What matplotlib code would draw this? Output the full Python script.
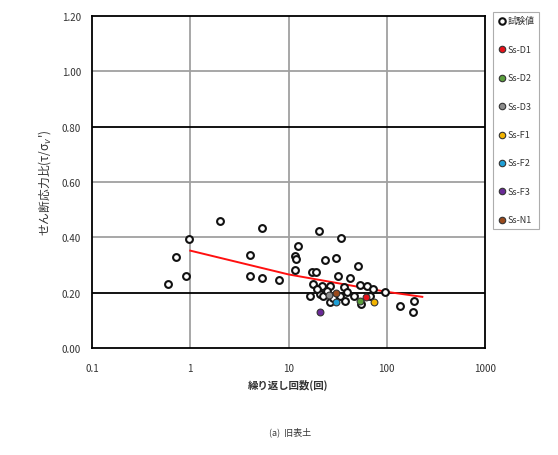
import matplotlib
matplotlib.use("Agg")
import matplotlib.pyplot as plt

plt.rcParams['font.family'] = ['Noto Sans CJK JP', 'DejaVu Sans']

# test results (cycles to failure, stress ratio)
test_n = [0.59, 0.71, 0.90, 0.98, 2.02, 5.37, 4.02, 4.02, 5.37, 8.05,
          20.2, 33.9, 12.4, 11.7, 12.0, 11.7, 23.7, 30.1, 50.9, 17.3,
          19.1, 31.6, 42.5, 17.7, 21.8, 26.6, 36.3, 53.8, 62.9, 72.4,
          95.0, 16.4, 21.1, 26.6, 37.8, 54.7, 67.6, 137, 190, 186,
          19.5, 22.7, 33.6, 39.3, 46.9, 24.5, 28.5]
test_ratio = [0.230, 0.328, 0.261, 0.394, 0.459, 0.433, 0.336, 0.261, 0.254, 0.246,
              0.424, 0.398, 0.367, 0.331, 0.322, 0.283, 0.319, 0.324, 0.297, 0.276,
              0.274, 0.261, 0.254, 0.231, 0.225, 0.225, 0.219, 0.228, 0.225, 0.213,
              0.201, 0.189, 0.195, 0.165, 0.171, 0.159, 0.189, 0.153, 0.171, 0.129,
              0.213, 0.189, 0.189, 0.201, 0.189, 0.205, 0.180]

# design ground motions
eq_names = ['Ss-D1', 'Ss-D2', 'Ss-D3', 'Ss-F1', 'Ss-F2', 'Ss-F3', 'Ss-N1']
eq_n = [62.0, 53.8, 26.0, 73.9, 30.6, 20.7, 30.1]
eq_ratio = [0.183, 0.171, 0.190, 0.165, 0.168, 0.131, 0.198]
eq_colors = ['#e8121a', '#5a9e3c', '#8c8c8c', '#f2b300', '#1e9fd6', '#6a2a98', '#9a4a1c']

# fitted curve
fit_n = [1, 10, 100, 230]
fit_ratio = [0.352, 0.266, 0.203, 0.185]

fig = plt.figure(figsize=(5.58, 4.56), dpi=100)
ax = fig.add_axes([0.1649, 0.2346, 0.7043, 0.7281])

ax.set_xscale('log')
ax.set_xlim(0.1, 1000)
ax.set_ylim(0, 1.2)
ax.set_xticks([0.1, 1, 10, 100, 1000])
ax.set_xticklabels(['0.1', '1', '10', '100', '1000'])
ax.minorticks_off()
ax.set_yticks([0, 0.2, 0.4, 0.6, 0.8, 1.0, 1.2])
ax.set_yticklabels(['%.2f' % v for v in ax.get_yticks()])
ax.tick_params(length=0, labelsize=7, colors='#333333')
ax.tick_params(axis='x', pad=11)
ax.tick_params(axis='y', pad=8)

for v in [1, 10, 100]:
    ax.axvline(v, color='#a0a0a0', lw=1.3, zorder=0)
for v in [0.4, 0.6, 1.0]:
    ax.axhline(v, color='#a0a0a0', lw=1.3, zorder=0)
for v in [0.2, 0.8]:
    ax.axhline(v, color='black', lw=1.3, zorder=0)
for s in ax.spines.values():
    s.set_linewidth(1.3)

ax.plot(fit_n, fit_ratio, color='#ff1010', lw=1.4, zorder=2)

ax.scatter(test_n, test_ratio, s=24, facecolor='white', edgecolor='#111111',
           linewidth=1.5, zorder=3, label='試験値')
for name, n, r, c in zip(eq_names, eq_n, eq_ratio, eq_colors):
    ax.scatter([n], [r], s=24, facecolor=c, edgecolor='#333333',
               linewidth=0.8, zorder=4, label=name)

ax.set_xlabel('繰り返し回数(回)', fontsize=7.5, fontweight='bold', color='#333333', labelpad=4)
ax.set_ylabel("せん断応力比(τ/σ$_v$')", fontsize=8.5, color='#333333', labelpad=6)

leg = fig.legend(loc='upper left', bbox_to_anchor=(0.884, 0.972), fontsize=6.5,
                 frameon=True, fancybox=False, edgecolor='#999999',
                 handletextpad=0.05, handlelength=1.0, borderpad=0.5,
                 labelspacing=2.15, borderaxespad=0, markerscale=0.95)
leg.get_frame().set_linewidth(0.8)
for t in leg.get_texts():
    t.set_color('#333333')

fig.text(0.52, 0.045, '(a)  旧表土', fontsize=6.5, color='#333333', ha='center')

fig.savefig('out.png', dpi=100)
